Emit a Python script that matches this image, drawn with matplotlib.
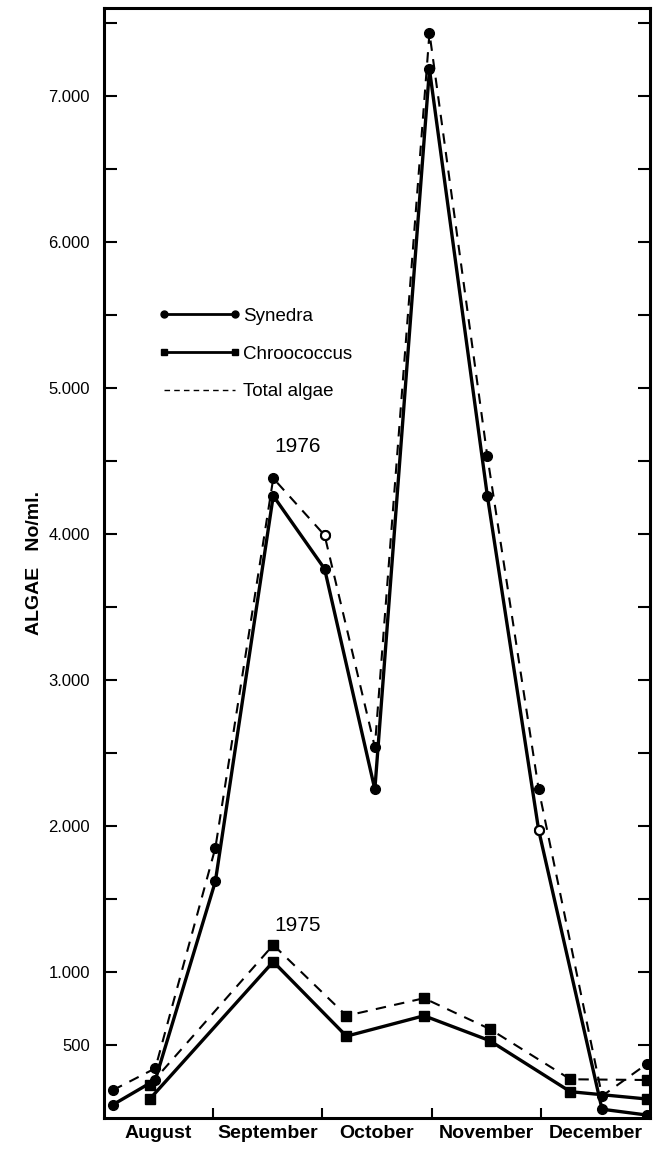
import matplotlib.pyplot as plt
from matplotlib.lines import Line2D
from matplotlib.ticker import FixedLocator, FuncFormatter

plt.rcParams['font.family'] = ['Liberation Sans Narrow', 'Liberation Sans', 'DejaVu Sans']

months = ["August", "September", "October", "November", "December"]

# sampling dates in month units (0 = 1 August)
x_1976 = [0.08, 0.47, 1.02, 1.55, 2.02, 2.48, 2.98, 3.51, 3.98, 4.56, 4.97]
synedra_1976 = [90, 260, 1620, 4260, 3760, 2250, 7180, 4260, 1970, 60, 20]
total_1976 = [190, 340, 1850, 4380, 3990, 2540, 7430, 4530, 2250, 150, 370]

x_1975 = [0.42, 1.55, 2.22, 2.93, 3.53, 4.27, 4.97]
chroococcus_1975 = [130, 1070, 560, 700, 530, 180, 130]
total_1975 = [225, 1185, 700, 820, 610, 265, 260]

# points drawn with open markers
open_synedra = [8]
open_total = [4]

fig = plt.figure(figsize=(6.58, 11.49), dpi=100)
ax = fig.add_axes([0.158, 0.027, 0.830, 0.966])

ax.plot(x_1976, synedra_1976, color="black", lw=2.4, marker="o", ms=7)
ax.plot(x_1976, total_1976, color="black", lw=1.5, ls=(0, (5, 4)), marker="o", ms=7)
ax.plot(x_1975, chroococcus_1975, color="black", lw=2.4, marker="s", ms=6.5)
ax.plot(x_1975, total_1975, color="black", lw=1.5, ls=(0, (5, 4)), marker="s", ms=6.5)

for i in open_synedra:
    ax.plot(x_1976[i], synedra_1976[i], "o", ms=6.5, mfc="white", mec="black", mew=1.5)
for i in open_total:
    ax.plot(x_1976[i], total_1976[i], "o", ms=6.5, mfc="white", mec="black", mew=1.5)

ax.set_xlim(0, 5)
ax.set_ylim(0, 7600)

# month boundaries as ticks, names centred in each month
ax.xaxis.set_major_locator(FixedLocator([1, 2, 3, 4]))
ax.xaxis.set_minor_locator(FixedLocator([i + 0.5 for i in range(len(months))]))
ax.set_xticklabels([])
ax.set_xticklabels(months, minor=True, fontsize=14, fontweight="bold")
ax.tick_params(axis="x", which="major", direction="in", length=7, width=1.5, top=False)
ax.tick_params(axis="x", which="minor", length=0, pad=5)

major_y = [500, 1000, 2000, 3000, 4000, 5000, 6000, 7000]
minor_y = [1500, 2500, 3500, 4500, 5500, 6500, 7500]
ax.yaxis.set_major_locator(FixedLocator(major_y))
ax.yaxis.set_minor_locator(FixedLocator(minor_y))
ax.yaxis.set_major_formatter(FuncFormatter(
    lambda v, p: f"{int(v):,}".replace(",", ".")))
ax.tick_params(axis="y", which="both", direction="in", length=9, width=1.5,
               right=True, labelsize=12, pad=10)
for lab in ax.get_yticklabels():
    lab.set_family(["Liberation Sans", "DejaVu Sans"])

for s in ax.spines.values():
    s.set_linewidth(2.2)

ax.set_ylabel("ALGAE   No/ml.", fontsize=14, fontweight="bold", labelpad=4)

ax.text(1.77, 4600, "1976", fontsize=15, ha="center", va="center")
ax.text(1.77, 1320, "1975", fontsize=15, ha="center", va="center")

handles = [
    Line2D([], [], color="black", lw=2, marker="o", ms=5),
    Line2D([], [], color="black", lw=2, marker="s", ms=5),
    Line2D([], [], color="black", lw=1, ls=(0, (4, 3))),
]
ax.legend(handles, ["Synedra", "Chroococcus", "Total algae"], loc="upper left",
          bbox_to_anchor=(0.1, 0.73), frameon=False, numpoints=2,
          handlelength=4.4, handletextpad=0.1, labelspacing=1.1, fontsize=13.5,
          borderpad=0, borderaxespad=0)

plt.savefig("out.png", dpi=100)
